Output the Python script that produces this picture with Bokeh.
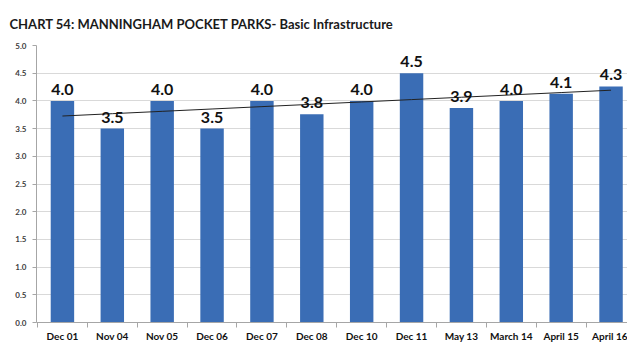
import numpy as np
from bokeh.plotting import figure
from bokeh.models import Range1d, FixedTicker, ColumnDataSource, NumeralTickFormatter
from bokeh.core.properties import value
from bokeh.embed import file_html
from bokeh.resources import INLINE

categories = ["Dec 01", "Nov 04", "Nov 05", "Dec 06", "Dec 07", "Dec 08",
              "Dec 10", "Dec 11", "May 13", "March 14", "April 15", "April 16"]
scores = [4.0, 3.5, 4.0, 3.5, 4.0, 3.76, 4.0, 4.5, 3.87, 4.0, 4.13, 4.26]
y_ticks = [0.0, 0.5, 1.0, 1.5, 2.0, 2.5, 3.0, 3.5, 4.0, 4.5, 5.0]
title_text = "CHART  54: MANNINGHAM POCKET PARKS- Basic Infrastructure"

xs = list(range(len(categories)))
labels = [f"{v:.1f}" for v in scores]
src = ColumnDataSource(dict(x=xs, score=scores, label=labels))

coef = np.polyfit(xs, scores, 1)
trend = np.polyval(coef, xs)

p = figure(width=627, height=344, x_range=Range1d(-0.52, 11.33), y_range=Range1d(0, 5),
           output_backend="svg", toolbar_location=None,
           min_border_left=36, min_border_right=0, min_border_top=0, min_border_bottom=0)

p.styles = {"box-shadow": "-4px -4px 0 0 white, -5px -5px 0 0 #d9d9d9"}

p.title.text = title_text
p.title.text_font = "Lato"
p.title.text_font_size = "13px"
p.title.text_font_style = "bold"
p.title.text_color = "#1a1a1a"
p.title.align = "left"
p.title.offset = -27
p.title.standoff = 27

p.outline_line_color = None
p.background_fill_color = "white"
p.border_fill_color = "white"

p.vbar(x="x", top="score", width=0.47, source=src, fill_color="#3A6DB5", line_color=None)
p.line(xs, trend, line_color="#222222", line_width=1)
p.text(x="x", y="score", text="label", source=src, text_align="center", text_baseline="bottom",
       y_offset=-6, text_font=value("Lato"), text_font_size="16px", text_font_style="bold",
       text_color="#111111")

# y axis
yax = p.yaxis[0]
yax.ticker = FixedTicker(ticks=y_ticks)
yax.formatter = NumeralTickFormatter(format="0.0")
yax.major_label_text_font = "Lato"
yax.major_label_text_font_size = "8px"
yax.major_label_text_font_style = "bold"
yax.major_label_text_color = "#404040"
yax.axis_line_color = "#a6a6a6"
yax.major_tick_line_color = "#a6a6a6"
yax.major_tick_out = 4
yax.major_tick_in = 0
yax.minor_tick_line_color = None
yax.major_label_standoff = 6

p.ygrid.grid_line_color = "#d9d9d9"
p.xgrid.visible = False

# x axis: labels at centres, tick marks at category boundaries (minor ticks)
xax = p.xaxis[0]
xax.ticker = FixedTicker(ticks=xs, minor_ticks=[i - 0.5 for i in range(len(categories) + 1)])
xax.major_label_overrides = {i: c for i, c in zip(xs, categories)}
xax.major_label_text_font = "Lato"
xax.major_label_text_font_size = "10px"
xax.major_label_text_font_style = "bold"
xax.major_label_text_color = "#111111"
xax.major_label_text_line_height = 1.0
xax.axis_line_color = "#a6a6a6"
xax.major_tick_line_color = None
xax.major_tick_out = 0
xax.major_tick_in = 0
xax.minor_tick_line_color = "#a6a6a6"
xax.minor_tick_out = 5
xax.minor_tick_in = 0
xax.major_label_standoff = 2
xax.axis_label = None

open("out.html", "w").write(file_html(p, INLINE))
